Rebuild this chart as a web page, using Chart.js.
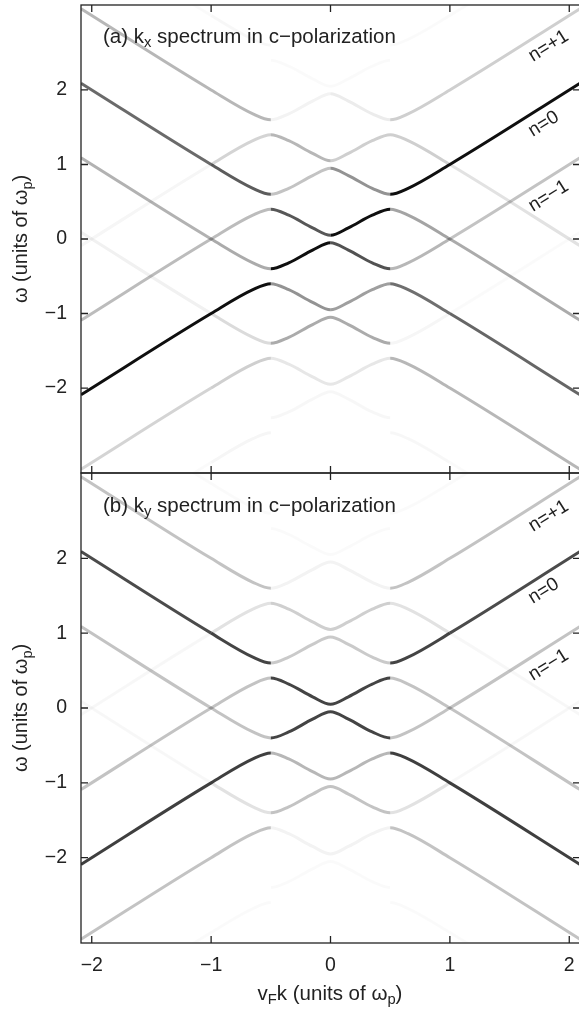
<!DOCTYPE html>
<html>
  <head>
    <title>k spectrum in c-polarization</title>
    <script src="https://cdn.jsdelivr.net/npm/chart.js@4.4.0/dist/chart.umd.min.js"></script>
    <style>
      body {
        margin: 0;
        background: #fff;
      }
      #wrap {
        position: relative;
        width: 579px;
        height: 1010px;
        overflow: hidden;
        font-family: "Liberation Sans", Arial, sans-serif;
        color: #222;
      }
      canvas {
        position: absolute;
        left: 0;
      }
      .lbl {
        position: absolute;
        white-space: nowrap;
        line-height: 1;
      }
      .sub {
        font-size: 0.72em;
        position: relative;
        top: 0.32em;
      }
      .ytitle {
        position: absolute;
        white-space: nowrap;
        line-height: 1;
        font-size: 20px;
        transform: translate(-50%, -50%) rotate(-90deg);
      }
      .band {
        position: absolute;
        white-space: nowrap;
        line-height: 1;
        font-size: 19px;
        transform: translate(-50%, -50%) rotate(-32deg);
      }
    </style>
  </head>
  <body>
    <div id="wrap">
      <canvas id="chartA" width="582" height="480" style="top: 0px"></canvas>
      <canvas id="chartB" width="582" height="544" style="top: 466px"></canvas>

      <div class="lbl" style="left: 103px; top: 25.5px; font-size: 20.5px">
        (a) k<span class="sub">x</span> spectrum in c&minus;polarization
      </div>
      <div class="lbl" style="left: 103px; top: 494.5px; font-size: 20.5px">
        (b) k<span class="sub">y</span> spectrum in c&minus;polarization
      </div>

      <div class="band" style="left: 548px; top: 45px">n=+1</div>
      <div class="band" style="left: 543px; top: 123px">n=0</div>
      <div class="band" style="left: 548px; top: 195px">n=&minus;1</div>
      <div class="band" style="left: 548px; top: 515px">n=+1</div>
      <div class="band" style="left: 543px; top: 590px">n=0</div>
      <div class="band" style="left: 548px; top: 664px">n=&minus;1</div>

      <div class="ytitle" style="left: 20px; top: 239px">
        &omega; (units of &omega;<span class="sub">p</span>)
      </div>
      <div class="ytitle" style="left: 20px; top: 708px">
        &omega; (units of &omega;<span class="sub">p</span>)
      </div>
      <div class="lbl" style="left: 330px; top: 982.5px; font-size: 20.5px; transform: translateX(-50%)">
        v<span class="sub">F</span>k (units of &omega;<span class="sub">p</span>)
      </div>
    </div>

    <script>
      // momentum grid shared by every branch (units of omega_p)
      const kVals = [-2.09, -1, -0.65, -0.5, -0.35, -0.15, 0, 0.15, 0.35, 0.5, 0.65, 1, 2.09];

      // upper branches of each anticrossing (V shape at k = +-0.5)
      const u3 = [4.09, 3, 2.68, 2.6, 2.68, 2.85, 2.95, 2.85, 2.68, 2.6, 2.68, 3, 4.09];
      const u2 = [3.09, 2, 1.68, 1.6, 1.68, 1.85, 1.95, 1.85, 1.68, 1.6, 1.68, 2, 3.09];
      const u1 = [2.09, 1, 0.68, 0.6, 0.68, 0.85, 0.95, 0.85, 0.68, 0.6, 0.68, 1, 2.09];
      const u0 = [1.09, 0, -0.32, -0.4, -0.32, -0.15, -0.05, -0.15, -0.32, -0.4, -0.32, 0, 1.09];
      const uM1 = [0.09, -1, -1.32, -1.4, -1.32, -1.15, -1.05, -1.15, -1.32, -1.4, -1.32, -1, 0.09];
      const uM2 = [-0.91, -2, -2.32, -2.4, -2.32, -2.15, -2.05, -2.15, -2.32, -2.4, -2.32, -2, -0.91];
      const uM3 = [-1.91, -3, -3.32, -3.4, -3.32, -3.15, -3.05, -3.15, -3.32, -3.4, -3.32, -3, -1.91];
      const uM4 = [-2.91, -4, -4.32, -4.4, -4.32, -4.15, -4.05, -4.15, -4.32, -4.4, -4.32, -4, -2.91];

      // lower branches (peaks at k = +-0.5, valley at k = 0)
      const l5 = [2.91, 4, 4.32, 4.4, 4.32, 4.15, 4.05, 4.15, 4.32, 4.4, 4.32, 4, 2.91];
      const l4 = [1.91, 3, 3.32, 3.4, 3.32, 3.15, 3.05, 3.15, 3.32, 3.4, 3.32, 3, 1.91];
      const l3 = [0.91, 2, 2.32, 2.4, 2.32, 2.15, 2.05, 2.15, 2.32, 2.4, 2.32, 2, 0.91];
      const l2 = [-0.09, 1, 1.32, 1.4, 1.32, 1.15, 1.05, 1.15, 1.32, 1.4, 1.32, 1, -0.09];
      const l1 = [-1.09, 0, 0.32, 0.4, 0.32, 0.15, 0.05, 0.15, 0.32, 0.4, 0.32, 0, -1.09];
      const l0 = [-2.09, -1, -0.68, -0.6, -0.68, -0.85, -0.95, -0.85, -0.68, -0.6, -0.68, -1, -2.09];
      const lM1 = [-3.09, -2, -1.68, -1.6, -1.68, -1.85, -1.95, -1.85, -1.68, -1.6, -1.68, -2, -3.09];
      const lM2 = [-4.09, -3, -2.68, -2.6, -2.68, -2.85, -2.95, -2.85, -2.68, -2.6, -2.68, -3, -4.09];

      // spectral weight of each replica line w = +-k + n, rows n = -2..2,
      // columns: k<-1, -1..-0.5, -0.5..0, 0..0.5, 0.5..1, k>1
      const riseA = [
        [0.02, 0.04, 0.03, 0.1, 0.04, 0.02],
        [0.18, 0.2, 0.35, 0.4, 0.3, 0.25],
        [1.0, 1.0, 1.0, 1.0, 1.0, 1.0],
        [0.28, 0.28, 0.25, 0.2, 0.2, 0.2],
        [0.04, 0.18, 0.05, 0.02, 0.02, 0.02],
      ];
      const fallA = [
        [0.06, 0.15, 0.1, 0.03, 0.03, 0.02],
        [0.32, 0.35, 0.45, 0.35, 0.3, 0.3],
        [0.62, 0.68, 0.7, 0.72, 0.6, 0.64],
        [0.3, 0.3, 0.3, 0.45, 0.38, 0.35],
        [0.02, 0.03, 0.02, 0.08, 0.2, 0.12],
      ];
      const riseB = [
        [0.02, 0.02, 0.02, 0.05, 0.12, 0.03],
        [0.25, 0.25, 0.25, 0.3, 0.25, 0.25],
        [0.8, 0.8, 0.78, 0.78, 0.78, 0.75],
        [0.25, 0.25, 0.22, 0.2, 0.25, 0.25],
        [0.03, 0.12, 0.05, 0.02, 0.02, 0.02],
      ];
      const fallB = [
        [0.03, 0.12, 0.05, 0.02, 0.02, 0.02],
        [0.25, 0.25, 0.3, 0.25, 0.25, 0.25],
        [0.75, 0.78, 0.78, 0.78, 0.8, 0.8],
        [0.25, 0.25, 0.2, 0.22, 0.25, 0.25],
        [0.02, 0.02, 0.02, 0.05, 0.12, 0.03],
      ];

      const xTickVals = [-2, -1, 0, 1, 2];
      const yTickVals = [-2, -1, 0, 1, 2];

      // which weight column each segment between grid points belongs to
      const segRegion = [0, 1, 1, 2, 2, 2, 3, 3, 3, 4, 4, 5];

      const curves = [
        { kind: "U", m: 3, vals: u3 },
        { kind: "U", m: 2, vals: u2 },
        { kind: "U", m: 1, vals: u1 },
        { kind: "U", m: 0, vals: u0 },
        { kind: "U", m: -1, vals: uM1 },
        { kind: "U", m: -2, vals: uM2 },
        { kind: "U", m: -3, vals: uM3 },
        { kind: "U", m: -4, vals: uM4 },
        { kind: "L", m: 5, vals: l5 },
        { kind: "L", m: 4, vals: l4 },
        { kind: "L", m: 3, vals: l3 },
        { kind: "L", m: 2, vals: l2 },
        { kind: "L", m: 1, vals: l1 },
        { kind: "L", m: 0, vals: l0 },
        { kind: "L", m: -1, vals: lM1 },
        { kind: "L", m: -2, vals: lM2 },
      ];

      // a branch follows a rising or falling replica line depending on region
      function weightFor(rise, fall, c, r) {
        let tbl, n;
        const zone = r < 2 ? "A" : r === 2 ? "B" : r === 3 ? "C" : "D";
        if (c.kind === "U") {
          if (zone === "A") { tbl = fall; n = c.m - 1; }
          else if (zone === "B") { tbl = rise; n = c.m; }
          else if (zone === "C") { tbl = fall; n = c.m; }
          else { tbl = rise; n = c.m - 1; }
        } else {
          if (zone === "A") { tbl = rise; n = c.m; }
          else if (zone === "B") { tbl = fall; n = c.m - 1; }
          else if (zone === "C") { tbl = rise; n = c.m - 1; }
          else { tbl = fall; n = c.m; }
        }
        if (Math.abs(n) > 2) return 0;
        return tbl[n + 2][r];
      }

      const shade = (w) => `rgba(15,15,15,${w})`;
      const fmt = (v) => (v < 0 ? "\u2212" + Math.abs(v) : String(v));

      // no extra layout room for the outer tick labels
      const noPad = (s) => {
        s.paddingTop = 0;
        s.paddingBottom = 0;
        s.paddingLeft = 0;
        s.paddingRight = 0;
      };

      const framePlugin = {
        id: "frame",
        afterDraw(chart) {
          const { ctx, chartArea: a, scales } = chart;
          ctx.save();
          ctx.strokeStyle = "#222";
          ctx.lineWidth = 1.3;
          ctx.strokeRect(a.left, a.top, a.right - a.left, a.bottom - a.top);
          ctx.beginPath();
          xTickVals.forEach((v) => {
            const x = scales.x.getPixelForValue(v);
            ctx.moveTo(x, a.top);
            ctx.lineTo(x, a.top + 7);
            ctx.moveTo(x, a.bottom);
            ctx.lineTo(x, a.bottom - 7);
          });
          yTickVals.forEach((v) => {
            const y = scales.y.getPixelForValue(v);
            ctx.moveTo(a.left, y);
            ctx.lineTo(a.left + 7, y);
            ctx.moveTo(a.right, y);
            ctx.lineTo(a.right - 7, y);
          });
          ctx.stroke();
          ctx.restore();
        },
      };

      function makeChart(id, rise, fall, showX, padTop, xHeight) {
        const datasets = [];
        curves.forEach((c) => {
          const w = [0, 1, 2, 3, 4, 5].map((r) => weightFor(rise, fall, c, r));
          if (Math.max(...w) === 0) return;
          datasets.push({
            data: kVals.map((k, i) => ({ x: k, y: c.vals[i] })),
            borderWidth: 3,
            borderColor: "rgba(0,0,0,0)",
            pointRadius: 0,
            fill: false,
            cubicInterpolationMode: "monotone",
            segment: {
              borderColor: (s) => shade(w[segRegion[s.p0DataIndex]]),
            },
          });
        });

        return new Chart(document.getElementById(id), {
          type: "line",
          data: { datasets },
          plugins: [framePlugin],
          options: {
            responsive: false,
            animation: false,
            events: [],
            layout: { padding: { top: padTop, right: 2, left: 0, bottom: 0 } },
            plugins: { legend: { display: false }, tooltip: { enabled: false } },
            scales: {
              x: {
                type: "linear",
                min: -2.09,
                max: 2.09,
                afterBuildTicks: (s) => {
                  s.ticks = xTickVals.map((v) => ({ value: v }));
                },
                afterFit: (s) => {
                  s.height = xHeight;
                  noPad(s);
                },
                grid: { display: false, drawTicks: false },
                border: { display: false },
                ticks: {
                  display: showX,
                  padding: 11,
                  color: "#222",
                  font: { size: 19.5 },
                  maxRotation: 0,
                  callback: fmt,
                },
              },
              y: {
                type: "linear",
                min: -3.14,
                max: 3.14,
                afterBuildTicks: (s) => {
                  s.ticks = yTickVals.map((v) => ({ value: v }));
                },
                afterFit: (s) => {
                  s.width = 81;
                  noPad(s);
                },
                grid: { display: false, drawTicks: false },
                border: { display: false },
                ticks: {
                  padding: 14,
                  color: "#222",
                  font: { size: 19.5 },
                  callback: fmt,
                },
              },
            },
          },
        });
      }

      Chart.defaults.font.family = '"Liberation Sans", Arial, sans-serif';

      makeChart("chartA", riseA, fallA, false, 5, 7);
      makeChart("chartB", riseB, fallB, true, 7, 67);
    </script>
  </body>
</html>
